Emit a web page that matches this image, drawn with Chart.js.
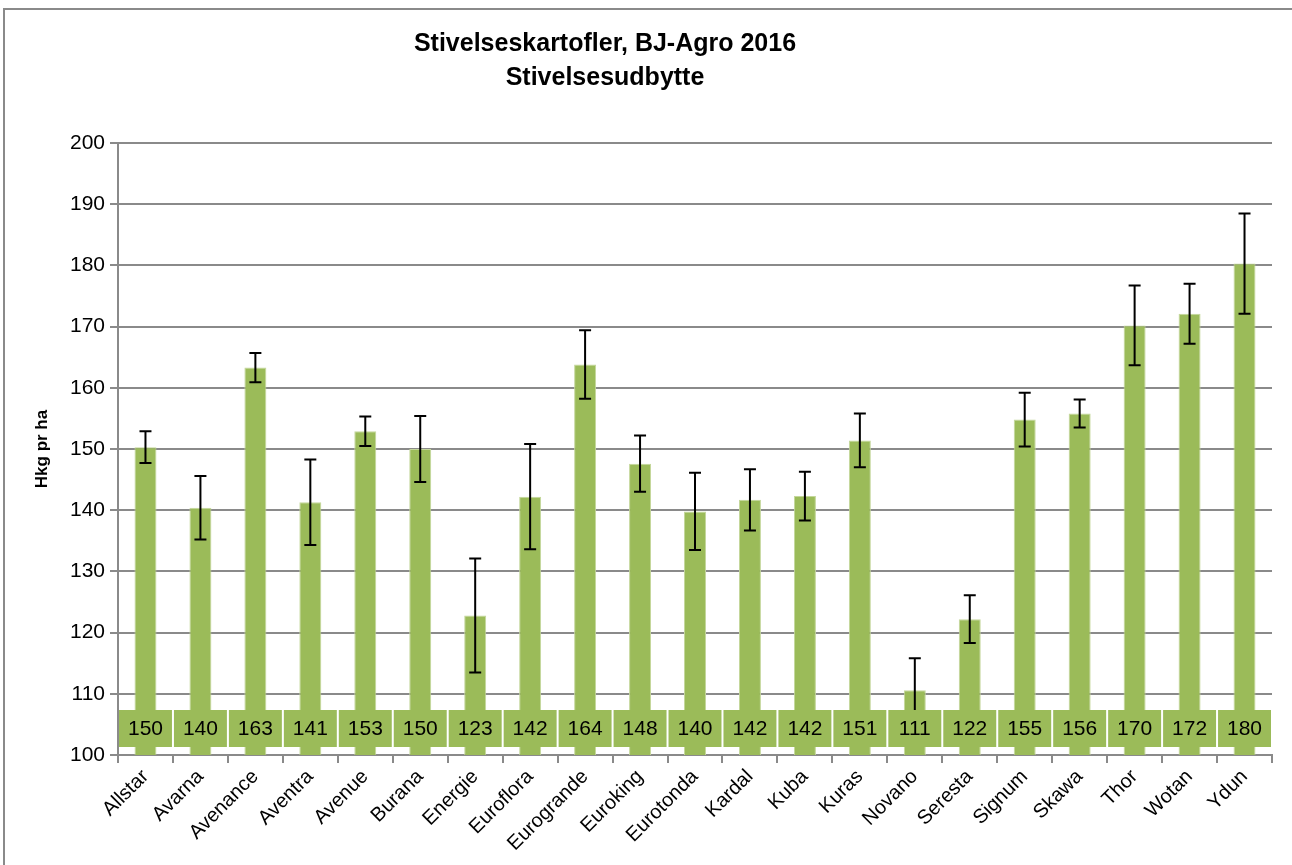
<!DOCTYPE html>
<html>
<head>
<meta charset="utf-8">
<script src="https://cdn.jsdelivr.net/npm/chart.js@4"></script>
<style>
  html, body { margin: 0; padding: 0; background: #fff; overflow: hidden; }
  #wrap { position: relative; width: 1292px; height: 865px; }
  #frame { position: absolute; left: 3px; top: 8px; width: 1400px; height: 1000px;
           border: 2px solid #8a8a8a; box-sizing: border-box; }
  #title { position: absolute; left: 255px; width: 700px; top: 25px; text-align: center;
           font: bold 25px "Liberation Sans", Arial, sans-serif; line-height: 34px; color: #000; }
  canvas { position: absolute; left: 0; top: 0; }
</style>
</head>
<body>
<div id="wrap">
  <div id="frame"></div>
  <canvas id="chart" width="1292" height="865"></canvas>
  <div id="title">Stivelseskartofler, BJ-Agro 2016<br>Stivelsesudbytte</div>
</div>
<script>
const categories = ["Allstar", "Avarna", "Avenance", "Aventra", "Avenue", "Burana", "Energie",
  "Euroflora", "Eurogrande", "Euroking", "Eurotonda", "Kardal", "Kuba", "Kuras", "Novano",
  "Seresta", "Signum", "Skawa", "Thor", "Wotan", "Ydun"];
const yieldValues = [150.3, 140.4, 163.3, 141.3, 152.9, 150.0, 122.8, 142.2, 163.8, 147.6, 139.8,
  141.7, 142.3, 151.4, 110.6, 122.2, 154.8, 155.8, 170.2, 172.1, 180.3];
const errorValues = [2.6, 5.2, 2.4, 7.0, 2.4, 5.4, 9.3, 8.6, 5.6, 4.6, 6.3,
  5.0, 4.0, 4.4, 5.2, 3.9, 4.4, 2.3, 6.5, 4.9, 8.2];
const yTicks = [100, 110, 120, 130, 140, 150, 160, 170, 180, 190, 200];

const green = "#9BBB59";
const gray = "#8a8a8a";
const font = "'Liberation Sans', Arial, sans-serif";

// error bars drawn from the y scale
const errorBars = {
  id: "errorBars",
  afterDatasetsDraw(chart) {
    const ctx = chart.ctx;
    const y = chart.scales.y;
    const meta = chart.getDatasetMeta(0);
    ctx.save();
    ctx.strokeStyle = "#000";
    ctx.lineWidth = 2;
    meta.data.forEach((bar, i) => {
      const top = y.getPixelForValue(yieldValues[i] + errorValues[i]);
      const bot = y.getPixelForValue(yieldValues[i] - errorValues[i]);
      ctx.beginPath();
      ctx.moveTo(bar.x, top); ctx.lineTo(bar.x, bot);
      ctx.moveTo(bar.x - 6, top); ctx.lineTo(bar.x + 6, top);
      ctx.moveTo(bar.x - 6, bot); ctx.lineTo(bar.x + 6, bot);
      ctx.stroke();
    });
    ctx.restore();
  },
};

// value boxes along the bottom of the plot
const valueBoxes = {
  id: "valueBoxes",
  afterDatasetsDraw(chart) {
    const ctx = chart.ctx;
    const x = chart.scales.x;
    const area = chart.chartArea;
    const catW = (area.right - area.left) / categories.length;
    const boxTop = area.bottom - 45;
    const boxBot = area.bottom - 8;
    ctx.save();
    ctx.font = "21px " + font;
    ctx.textAlign = "center";
    ctx.textBaseline = "middle";
    categories.forEach((c, i) => {
      const cx = x.getPixelForValue(i);
      ctx.fillStyle = green;
      ctx.fillRect(cx - catW / 2 + 1, boxTop, catW - 2, boxBot - boxTop);
      ctx.fillStyle = "#000";
      ctx.fillText(Math.round(yieldValues[i]), cx, (boxTop + boxBot) / 2 + 1);
    });
    ctx.restore();
  },
};

new Chart(document.getElementById("chart"), {
  type: "bar",
  data: {
    labels: categories,
    datasets: [{
      label: "Stivelsesudbytte",
      data: yieldValues,
      backgroundColor: green,
      borderColor: "#c4d79b",
      borderWidth: 1,
      barPercentage: 0.4,
      categoryPercentage: 1,
    }],
  },
  options: {
    responsive: false,
    animation: false,
    layout: { padding: { left: 32, top: 143, right: 20, bottom: 0 } },
    plugins: {
      legend: { display: false },
      tooltip: { enabled: false },
    },
    scales: {
      y: {
        min: 100,
        max: 200,
        afterBuildTicks: (scale) => { scale.ticks = yTicks.map((v) => ({ value: v })); },
        afterFit: (scale) => { scale.width = 86; },
        ticks: { color: "#000", font: { family: font, size: 21 }, padding: 5 },
        grid: { color: gray, lineWidth: 2, tickLength: 8 },
        border: { color: gray, width: 2 },
        title: {
          display: true,
          text: "Hkg pr ha",
          color: "#000",
          font: { family: font, size: 17, weight: "bold" },
          padding: 0,
        },
      },
      x: {
        afterFit: (scale) => { scale.height = 110; },
        ticks: {
          color: "#000",
          font: { family: font, size: 20 },
          maxRotation: 45,
          minRotation: 45,
          autoSkip: false,
          padding: 2,
        },
        grid: { offset: true, drawOnChartArea: false, color: gray, lineWidth: 2, tickLength: 8 },
        border: { color: gray, width: 2 },
      },
    },
  },
  plugins: [errorBars, valueBoxes],
});
</script>
</body>
</html>
